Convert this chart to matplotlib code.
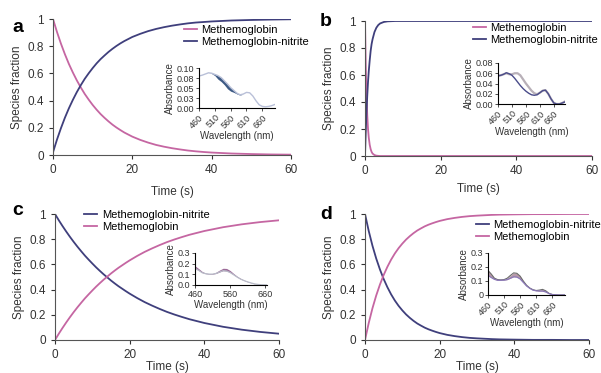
import numpy as np
import matplotlib
matplotlib.use("Agg")
import matplotlib.pyplot as plt

plt.rcParams['font.family'] = ['Liberation Sans', 'DejaVu Sans']

PINK = '#c566a2'
NAVY = '#3f3f7c'

# ---- kinetics ----
t_acd = list(range(0, 21)) + [22, 24, 26, 28, 30, 32, 34, 36, 38, 40, 45, 50, 55, 60]

a_met = [1, .905, .819, .741, .670, .607, .549, .497, .449, .407, .368, .333, .301, .273, .247,
         .223, .202, .183, .165, .150, .135, .111, .091, .074, .061, .050, .041, .033, .027, .022,
         .018, .011, .007, .004, .0025]
a_nit = [.02, .113, .197, .274, .343, .405, .462, .513, .560, .601, .639, .674, .705, .732, .758,
         .781, .802, .821, .838, .853, .868, .891, .911, .927, .940, .951, .960, .968, .974, .978,
         .982, .989, .993, .996, .998]

c_nit = [1, .951, .905, .861, .819, .779, .741, .705, .670, .638, .607, .577, .549, .522, .497,
         .472, .449, .427, .407, .387, .368, .333, .301, .273, .247, .223, .202, .183, .165, .150,
         .135, .105, .082, .064, .050]
c_met = [0, .049, .095, .139, .181, .221, .259, .295, .330, .362, .393, .423, .451, .478, .503,
         .528, .551, .573, .593, .613, .632, .667, .699, .727, .753, .777, .798, .817, .835, .850,
         .865, .895, .918, .936, .950]

d_nit = [1, .865, .748, .647, .560, .484, .419, .362, .313, .271, .235, .203, .176, .152, .131,
         .114, .098, .085, .074, .064, .055, .041, .031, .023, .017, .013, .010, .007, .005, .004,
         .003, .001, .001, 0, 0]
d_met = [0, .135, .252, .353, .440, .516, .581, .638, .687, .729, .765, .797, .824, .848, .869,
         .886, .902, .915, .926, .936, .945, .959, .969, .977, .983, .987, .990, .993, .995, .996,
         .997, .999, .999, 1, 1]

t_b = [0, .2, .4, .6, .8, 1, 1.25, 1.5, 1.75, 2, 2.5, 3, 3.5, 4, 5, 6, 8, 10, 20, 30, 40, 50, 60]
b_met = [1.0, .67, .45, .30, .20, .135, .082, .05, .03, .018, .007, .0025, .001, 0, 0, 0, 0, 0, 0,
         0, 0, 0, 0]
b_nit = [0, .18, .33, .45, .55, .63, .71, .78, .83, .865, .918, .95, .97, .982, .993, .9975, 1, 1,
         1, 1, 1, 1, 1]

# ---- inset spectra ----
wl_a = list(range(460, 701, 10))
a_spec_hi = [.080, .082, .085, .088, .087, .084, .081, .076, .068, .060, .051, .044, .037, .033,
             .035, .039, .038, .030, .018, .008, .004, .003, .004, .006, .009]
a_spec_lo = [.080, .082, .085, .088, .086, .081, .072, .066, .058, .048, .042, .039, .035, .032,
             .035, .039, .038, .030, .018, .008, .004, .003, .004, .006, .009]

wl_b = list(range(460, 701, 10))
b_spec_gray = [.055, .056, .058, .060, .058, .058, .060, .060, .056, .048, .040, .033, .026, .021,
               .019, .022, .026, .027, .020, .010, .002, .000, .000, .002, .005]
b_spec_blue = [.055, .056, .058, .061, .059, .056, .050, .043, .036, .030, .025, .021, .018, .017,
               .018, .022, .026, .027, .020, .010, .002, .000, .000, .002, .004]

wl_c = list(range(460, 671, 10))
c_spec_hi = [.180, .155, .128, .112, .107, .108, .120, .140, .157, .155, .136, .108, .082, .062,
             .046, .033, .022, .012, .006, .003, .001, .0]
c_spec_lo = [.155, .138, .116, .106, .102, .102, .108, .122, .134, .131, .117, .096, .074, .055,
             .041, .029, .019, .010, .005, .002, .001, .0]

wl_d = list(range(460, 701, 10))
d_spec_hi = [.175, .15, .12, .11, .108, .11, .12, .14, .158, .155, .135, .10, .07, .05, .038, .032,
             .035, .040, .030, .012, .004, .001, 0, 0, 0]
d_spec_lo = [.140, .125, .112, .105, .105, .106, .11, .12, .13, .128, .115, .09, .065, .048, .035,
             .030, .028, .028, .022, .010, .003, .001, 0, 0, 0]

W, H = 601, 373
fig = plt.figure(figsize=(W / 100, H / 100), dpi=100)


def box(x0, x1, ytop, ybot):
    return [x0 / W, 1 - ybot / H, (x1 - x0) / W, (ybot - ytop) / H]


def style_main(ax, xpad):
    for s in ['top', 'right']:
        ax.spines[s].set_visible(False)
    for s in ['left', 'bottom']:
        ax.spines[s].set_color('#555555')
    ax.set_xlim(0, 60)
    ax.set_ylim(0, 1)
    ax.set_xticks([0, 20, 40, 60])
    ax.set_yticks([0, .2, .4, .6, .8, 1])
    ax.set_yticklabels(['0', '0.2', '0.4', '0.6', '0.8', '1'])
    ax.tick_params(labelsize=8.5, length=3, width=0.8, colors='#333333')
    ax.set_xlabel('Time (s)', fontsize=8.5, color='#333333', labelpad=xpad)
    ax.set_ylabel('Species fraction', fontsize=8.5, color='#333333', labelpad=3)


def style_inset(ax, xlim, ylim, yticks, ylabels, xticks, rotate):
    for s in ['top', 'right']:
        ax.spines[s].set_visible(False)
    ax.set_xlim(*xlim)
    ax.set_ylim(*ylim)
    ax.set_yticks(yticks)
    ax.set_yticklabels(ylabels)
    ax.set_xticks(xticks)
    if rotate:
        ax.set_xticklabels([str(v) for v in xticks], rotation=45, ha='right', rotation_mode='anchor')
    ax.tick_params(labelsize=6.5, length=2, width=0.6, pad=1.5, colors='#333333')
    ax.set_xlabel('Wavelength (nm)', fontsize=7, color='#333333', labelpad=1)
    ax.set_ylabel('Absorbance', fontsize=7, color='#333333', labelpad=1)
    ax.patch.set_alpha(0)


def legend(ax, x, y):
    ax.legend(loc='upper left', bbox_to_anchor=(x, y), fontsize=8, frameon=False,
              handlelength=1.2, handletextpad=0.4, labelspacing=0.2, borderaxespad=0)


# panel a
ax = fig.add_axes(box(53, 291, 19, 155))
ax.plot(t_acd, a_met, color=PINK, lw=1.3, label='Methemoglobin')
ax.plot(t_acd, a_nit, color=NAVY, lw=1.3, label='Methemoglobin-nitrite')
style_main(ax, 7)
legend(ax, 0.53, 0.99)
fig.text(12 / W, 1 - 27 / H, 'a', fontsize=14, fontweight='bold', va='center')
ins = fig.add_axes(box(199, 275, 68, 108))
ins.fill_between(wl_a, a_spec_lo, a_spec_hi, color='#3d5a84', lw=0)
ins.plot(wl_a, a_spec_hi, color='#b9c0d8', lw=1.0)
style_inset(ins, (460, 700), (0, .10), [0, .025, .05, .075, .10],
            ['0.00', '0.03', '0.05', '0.08', '0.10'], [460, 510, 560, 610, 660], True)

# panel b
ax = fig.add_axes(box(365, 592, 21, 156))
ax.plot(t_b, b_met, color=PINK, lw=1.3, label='Methemoglobin')
ax.plot(t_b, b_nit, color=NAVY, lw=1.3, label='Methemoglobin-nitrite')
style_main(ax, 4)
legend(ax, 0.455, 1.02)
fig.text(320 / W, 1 - 22 / H, 'b', fontsize=14, fontweight='bold', va='center')
ins = fig.add_axes(box(498, 565, 63, 104))
ins.plot(wl_b, b_spec_gray, color='#b8b0b8', lw=1.6)
ins.plot(wl_b, b_spec_blue, color='#4a4c8a', lw=1.0)
style_inset(ins, (460, 700), (0, .08), [0, .02, .04, .06, .08],
            ['0.00', '0.02', '0.04', '0.06', '0.08'], [460, 510, 560, 610, 660], True)

# panel c
ax = fig.add_axes(box(55, 279, 214, 340))
ax.plot(t_acd, c_nit, color=NAVY, lw=1.3, label='Methemoglobin-nitrite')
ax.plot(t_acd, c_met, color=PINK, lw=1.3, label='Methemoglobin')
style_main(ax, 0)
legend(ax, 0.11, 1.07)
fig.text(12 / W, 1 - 210 / H, 'c', fontsize=14, fontweight='bold', va='center')
ins = fig.add_axes(box(195, 267, 253, 285))
ins.fill_between(wl_c, c_spec_lo, c_spec_hi, color='#9c6a98', lw=0)
ins.plot(wl_c, c_spec_lo, color='#b8bcc8', lw=0.9)
style_inset(ins, (460, 665), (0, .3), [0, .1, .2, .3],
            ['0.0', '0.1', '0.2', '0.3'], [460, 560, 660], False)

# panel d
ax = fig.add_axes(box(365, 589, 214, 340))
ax.plot(t_acd, d_nit, color=NAVY, lw=1.3, label='Methemoglobin-nitrite')
ax.plot(t_acd, d_met, color=PINK, lw=1.3, label='Methemoglobin')
style_main(ax, 0)
legend(ax, 0.475, 0.99)
fig.text(320 / W, 1 - 214 / H, 'd', fontsize=14, fontweight='bold', va='center')
ins = fig.add_axes(box(488, 565, 253, 295))
ins.fill_between(wl_d, d_spec_lo, d_spec_hi, color='#b89aa8', lw=0)
ins.plot(wl_d, d_spec_hi, color='#6a6a6a', lw=0.8)
ins.plot(wl_d, d_spec_lo, color='#8a78b8', lw=0.9)
style_inset(ins, (460, 700), (0, .3), [0, .1, .2, .3],
            ['0', '0.1', '0.2', '0.3'], [460, 510, 560, 610, 660], True)

fig.savefig('out.png', dpi=100)
